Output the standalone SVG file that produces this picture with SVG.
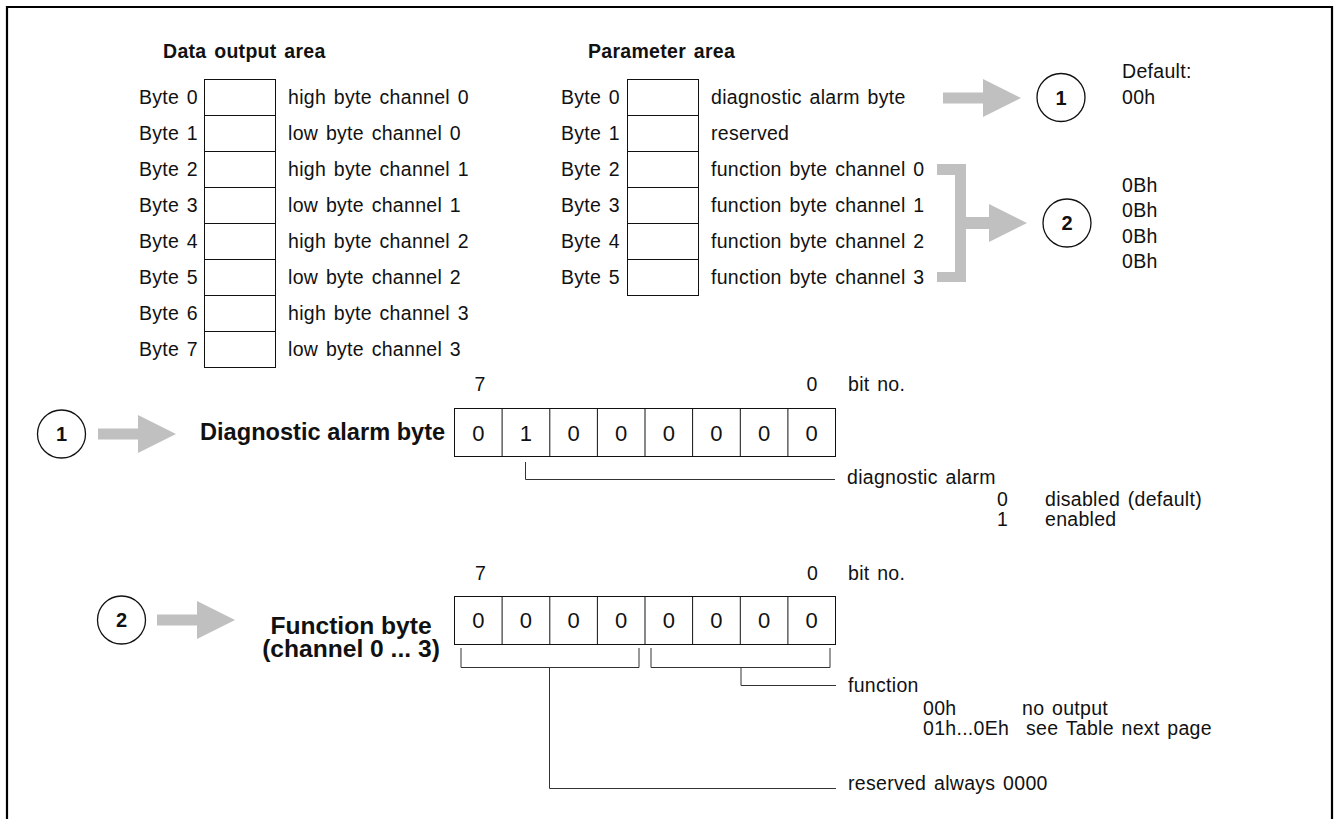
<svg xmlns="http://www.w3.org/2000/svg" width="1339" height="819" viewBox="0 0 1339 819">
  <style>
    text { font-family: "Liberation Sans", Arial, sans-serif; fill: #111; }
    .t { font-size: 19.5px; letter-spacing: 0.3px; word-spacing: 2px; }
    .h { font-size: 19.5px; font-weight: bold; letter-spacing: 0.3px; word-spacing: 2px; }
    .big { font-size: 23.6px; font-weight: bold; }
    .big2 { font-size: 24.6px; font-weight: bold; text-anchor: middle; }
    .num { font-size: 20px; font-weight: bold; text-anchor: middle; }
    .bit { font-size: 22px; text-anchor: middle; }
    .end { text-anchor: end; }
    .mid { text-anchor: middle; }
    .cell { fill: #fff; stroke: #111; stroke-width: 1; }
    .lead { fill: none; stroke: #333; stroke-width: 1; }
    .grey { fill: #c0c0c0; stroke: none; }
    .ring { fill: #fff; stroke: #111; stroke-width: 1.3; }
  </style>
  <defs>
    <!-- wide grey pointer arrow, tip at origin -->
    <polygon id="pointer" class="grey" points="-78,-5.5 -38,-5.5 -38,-19 0,0 -38,19 -38,5.5 -78,5.5"/>
    <!-- eight-cell bit register -->
    <g id="reg">
      <rect class="cell" x="0" y="0" width="381" height="48"/>
      <path d="M47.6,0V48M95.3,0V48M142.9,0V48M190.5,0V48M238.1,0V48M285.8,0V48M333.4,0V48" fill="none" stroke="#111" stroke-width="1"/>
    </g>
  </defs>

  <rect width="1339" height="819" fill="#fff"/>
  <!-- page frame, open at the bottom -->
  <path d="M7,822V7H1332V822" fill="none" stroke="#000" stroke-width="2.2"/>

  <!-- data output area -->
  <g id="data-output-area">
    <text class="h" x="163" y="58">Data output area</text>
    <g>
      <rect class="cell" x="204.5" y="79.5" width="71" height="36"/>
      <rect class="cell" x="204.5" y="115.5" width="71" height="36"/>
      <rect class="cell" x="204.5" y="151.5" width="71" height="36"/>
      <rect class="cell" x="204.5" y="187.5" width="71" height="36"/>
      <rect class="cell" x="204.5" y="223.5" width="71" height="36"/>
      <rect class="cell" x="204.5" y="259.5" width="71" height="36"/>
      <rect class="cell" x="204.5" y="295.5" width="71" height="36"/>
      <rect class="cell" x="204.5" y="331.5" width="71" height="36"/>
    </g>
    <g class="t">
      <text class="end" x="198" y="104">Byte 0</text>
      <text class="end" x="198" y="140">Byte 1</text>
      <text class="end" x="198" y="176">Byte 2</text>
      <text class="end" x="198" y="212">Byte 3</text>
      <text class="end" x="198" y="248">Byte 4</text>
      <text class="end" x="198" y="284">Byte 5</text>
      <text class="end" x="198" y="320">Byte 6</text>
      <text class="end" x="198" y="356">Byte 7</text>
      <text x="288" y="104">high byte channel 0</text>
      <text x="288" y="140">low byte channel 0</text>
      <text x="288" y="176">high byte channel 1</text>
      <text x="288" y="212">low byte channel 1</text>
      <text x="288" y="248">high byte channel 2</text>
      <text x="288" y="284">low byte channel 2</text>
      <text x="288" y="320">high byte channel 3</text>
      <text x="288" y="356">low byte channel 3</text>
    </g>
  </g>

  <!-- parameter area -->
  <g id="parameter-area">
    <text class="h" x="588" y="58">Parameter area</text>
    <g>
      <rect class="cell" x="627.5" y="79.5" width="71" height="36"/>
      <rect class="cell" x="627.5" y="115.5" width="71" height="36"/>
      <rect class="cell" x="627.5" y="151.5" width="71" height="36"/>
      <rect class="cell" x="627.5" y="187.5" width="71" height="36"/>
      <rect class="cell" x="627.5" y="223.5" width="71" height="36"/>
      <rect class="cell" x="627.5" y="259.5" width="71" height="36"/>
    </g>
    <g class="t">
      <text class="end" x="620" y="104">Byte 0</text>
      <text class="end" x="620" y="140">Byte 1</text>
      <text class="end" x="620" y="176">Byte 2</text>
      <text class="end" x="620" y="212">Byte 3</text>
      <text class="end" x="620" y="248">Byte 4</text>
      <text class="end" x="620" y="284">Byte 5</text>
      <text x="711" y="104">diagnostic alarm byte</text>
      <text x="711" y="140">reserved</text>
      <text x="711" y="176">function byte channel 0</text>
      <text x="711" y="212">function byte channel 1</text>
      <text x="711" y="248">function byte channel 2</text>
      <text x="711" y="284">function byte channel 3</text>
    </g>
  </g>

  <!-- default values -->
  <g id="defaults" class="t">
    <text x="1122" y="78">Default:</text>
    <text x="1122" y="104">00h</text>
    <text x="1122" y="192">0Bh</text>
    <text x="1122" y="217">0Bh</text>
    <text x="1122" y="243">0Bh</text>
    <text x="1122" y="268">0Bh</text>
  </g>

  <!-- reference markers -->
  <g id="marker-1-top">
    <circle class="ring" cx="1061" cy="97.5" r="24"/>
    <text class="num" x="1061" y="104.5">1</text>
  </g>
  <g id="marker-2-top">
    <circle class="ring" cx="1067" cy="223" r="24"/>
    <text class="num" x="1067" y="230">2</text>
  </g>
  <g id="marker-1-left">
    <circle class="ring" cx="61.5" cy="434" r="24"/>
    <text class="num" x="61.5" y="441">1</text>
  </g>
  <g id="marker-2-left">
    <circle class="ring" cx="121.5" cy="620" r="24"/>
    <text class="num" x="121.5" y="627">2</text>
  </g>

  <!-- diagnostic alarm byte -->
  <g id="diagnostic-alarm-byte">
    <text class="big" x="200" y="440">Diagnostic alarm byte</text>
    <text class="t mid" x="480" y="391">7</text>
    <text class="t mid" x="812" y="391">0</text>
    <text class="t" x="848" y="391">bit no.</text>
    <use href="#reg" x="454.5" y="408.5"/>
    <g class="bit">
      <text x="478.3" y="440.5">0</text>
      <text x="525.9" y="440.5">1</text>
      <text x="573.6" y="440.5">0</text>
      <text x="621.2" y="440.5">0</text>
      <text x="668.8" y="440.5">0</text>
      <text x="716.4" y="440.5">0</text>
      <text x="764.1" y="440.5">0</text>
      <text x="811.7" y="440.5">0</text>
    </g>
    <g class="t">
      <text x="847" y="484">diagnostic alarm</text>
      <text x="997" y="506">0</text>
      <text x="1045" y="506">disabled (default)</text>
      <text x="997" y="526">1</text>
      <text x="1045" y="526">enabled</text>
    </g>
  </g>

  <!-- function byte -->
  <g id="function-byte">
    <text class="big2" x="351" y="634">Function byte</text>
    <text class="big2" x="351" y="657">(channel 0 ... 3)</text>
    <text class="t mid" x="480.7" y="580">7</text>
    <text class="t mid" x="812.7" y="580">0</text>
    <text class="t" x="848" y="580">bit no.</text>
    <use href="#reg" x="454.5" y="596.5"/>
    <g class="bit">
      <text x="478.3" y="628">0</text>
      <text x="525.9" y="628">0</text>
      <text x="573.6" y="628">0</text>
      <text x="621.2" y="628">0</text>
      <text x="668.8" y="628">0</text>
      <text x="716.4" y="628">0</text>
      <text x="764.1" y="628">0</text>
      <text x="811.7" y="628">0</text>
    </g>
    <g class="t">
      <text x="848" y="692">function</text>
      <text x="923" y="715">00h</text>
      <text x="1022" y="715">no output</text>
      <text x="923" y="735">01h...0Eh</text>
      <text x="1026" y="735">see Table next page</text>
      <text x="848" y="790">reserved always 0000</text>
    </g>
  </g>

  <!-- connectors: grey pointers, bracket and leader lines -->
  <g id="connectors">
    <use href="#pointer" x="1021" y="98"/>
    <path class="grey" d="M937,164H966V217H989V204L1027,223L989,242V229H966V282H937V272H955V175H937Z"/>
    <use href="#pointer" x="176" y="434"/>
    <use href="#pointer" x="235" y="620"/>
    <path class="lead" d="M525.5,462V479.5H835"/>
    <path class="lead" d="M461,648V667.5H639V648M651,648V667.5H830V648"/>
    <path class="lead" d="M741,667.5V685.5H836"/>
    <path class="lead" d="M549.5,667.5V788.5H836"/>
  </g>
</svg>
